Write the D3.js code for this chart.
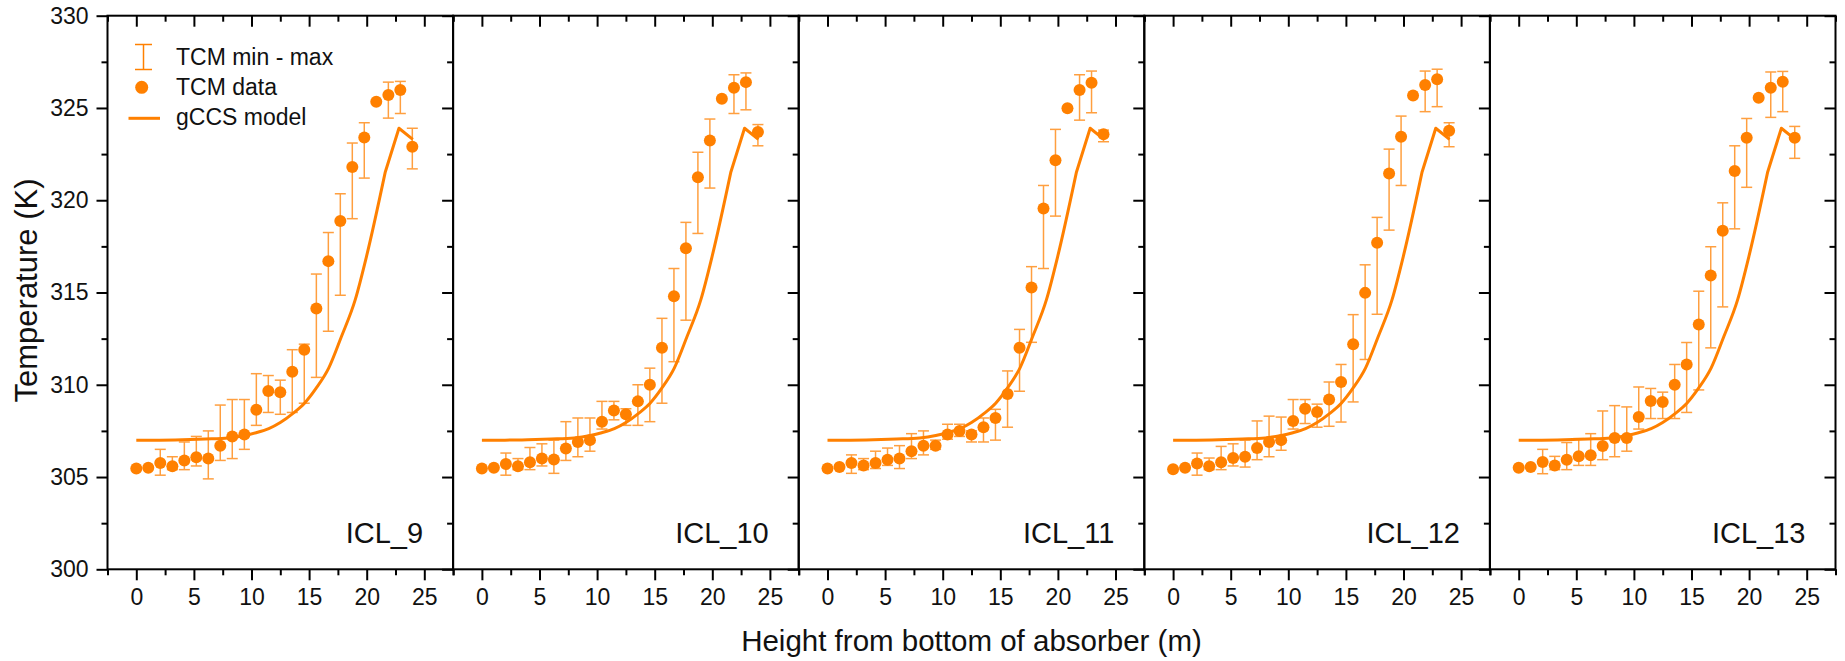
<!DOCTYPE html>
<html>
<head>
<meta charset="utf-8">
<script src="https://cdn.jsdelivr.net/npm/d3@7"></script>
<style>
  body { margin: 0; background: #fff; }
  svg { font-family: "Liberation Sans", Arial, sans-serif; }
</style>
</head>
<body>
<svg id="chart" width="1845" height="661"></svg>
<script>
// heights of the TCM probes (m)
const heights = [0, 1.04, 2.08, 3.13, 4.17, 5.21, 6.25, 7.29, 8.33, 9.38, 10.42, 11.46,
  12.5, 13.54, 14.58, 15.63, 16.67, 17.71, 18.75, 19.79, 20.83, 21.88, 22.92, 23.96]

const runs = ['ICL_9', 'ICL_10', 'ICL_11', 'ICL_12', 'ICL_13']

// TCM data, min and max (K), null where no bar is drawn
const tcm9 = [305.46, 305.5, 305.76, 305.58, 305.9, 306.07, 306.0, 306.7, 307.2, 307.3, 308.65, 309.66,
  309.6, 310.7, 311.9, 314.13, 316.7, 318.87, 321.8, 323.4, 325.34, 325.7, 325.97, 322.9]
const max9 = [null, null, 306.5, 306.1, 306.9, 307.2, 307.5, 308.9, 309.2, 309.2, 310.6, 310.5,
  310.25, 311.9, 312.2, 316.0, 318.25, 320.35, 323.1, 324.2, null, 326.4, 326.44, 323.9]
const min9 = [null, null, 305.1, 305.4, 305.4, 305.6, 304.9, 305.9, 306.0, 306.5, 307.8, 308.5,
  308.4, 308.5, 309.0, 310.4, 312.9, 314.85, 319.0, 321.2, null, 324.45, 324.7, 321.7]

const tcm10 = [305.46, 305.5, 305.7, 305.58, 305.8, 306.0, 305.95, 306.55, 306.9, 307.0, 308.0, 308.6,
  308.4, 309.1, 310.0, 312.0, 314.8, 317.4, 321.24, 323.24, 325.5, 326.1, 326.4, 323.7]
const max10 = [null, null, 306.3, 306.0, 306.6, 306.8, 307.0, 308.0, 308.2, 308.2, 309.1, 309.1,
  308.7, 310.0, 310.9, 313.6, 316.3, 318.8, 322.6, 324.4, null, 326.8, 326.9, 324.1]
const min10 = [null, null, 305.1, 305.4, 305.4, 305.6, 305.2, 305.9, 306.1, 306.4, 307.6, 308.1,
  307.8, 307.8, 308.0, 309.0, 311.25, 313.5, 318.2, 320.66, null, 324.7, 324.9, 322.95]

const tcm11 = [305.46, 305.55, 305.76, 305.63, 305.76, 305.94, 306.0, 306.4, 306.7, 306.7, 307.3, 307.5,
  307.3, 307.7, 308.2, 309.5, 312.0, 315.27, 319.55, 322.17, 324.98, 325.97, 326.37, 323.57]
const max11 = [null, null, 306.2, 306.0, 306.4, 306.57, 306.7, 307.35, 307.5, 307.0, 307.86, 307.86,
  307.5, 308.2, 308.67, 310.75, 313.0, 316.4, 320.8, 323.84, null, 326.8, 327.0, 323.8]
const min11 = [null, null, 305.2, 305.4, 305.46, 305.63, 305.46, 306.0, 306.2, 306.5, 307.05, 307.2,
  306.9, 306.9, 307.0, 307.7, 309.65, 312.3, 316.3, 319.14, null, 324.34, 324.74, 323.17]

const tcm12 = [305.42, 305.5, 305.73, 305.58, 305.8, 306.03, 306.1, 306.57, 306.9, 307.0, 308.04, 308.7,
  308.53, 309.2, 310.15, 312.2, 314.98, 317.7, 321.45, 323.44, 325.68, 326.24, 326.55, 323.77]
const max12 = [null, null, 306.3, 306.03, 306.66, 306.8, 307.0, 308.04, 308.3, 308.25, 309.2, 309.2,
  308.95, 310.15, 311.1, 313.8, 316.5, 319.07, 322.77, 324.56, null, 327.0, 327.1, 324.2]
const min12 = [null, null, 305.1, 305.4, 305.4, 305.6, 305.54, 305.94, 306.1, 306.45, 307.6, 307.9,
  307.7, 307.75, 307.98, 309.07, 311.37, 313.82, 318.38, 320.8, null, 324.8, 325.07, 322.9]

const tcm13 = [305.5, 305.55, 305.82, 305.63, 305.94, 306.12, 306.18, 306.68, 307.12, 307.12, 308.25, 309.12,
  309.07, 310.0, 311.1, 313.26, 315.92, 318.34, 321.58, 323.38, 325.55, 326.1, 326.42, 323.38]
const max13 = [null, null, 306.5, 306.12, 306.87, 307.08, 307.35, 308.58, 308.87, 308.8, 309.88, 309.8,
  309.6, 311.1, 312.29, 315.07, 317.48, 319.86, 322.95, 324.43, null, 326.95, 326.98, 324.0]
const min13 = [null, null, 305.18, 305.4, 305.4, 305.63, 305.63, 305.94, 306.1, 306.4, 307.6, 308.17,
  308.17, 308.17, 308.5, 309.72, 312.0, 314.22, 318.45, 320.7, null, 324.49, 324.8, 322.27]

// gCCS model profile: smooth part up to 21.6 m, then straight to the peak and down
const modelHeights = [0, 2, 4, 6, 8, 9.4, 10.4, 11.5, 12.5, 13.6, 14.6, 15.6, 16.7, 17.8, 19.0, 20.0, 21.6]
const modelTemp = [307.0, 307.0, 307.02, 307.06, 307.12, 307.25, 307.4, 307.62, 307.95, 308.45, 309.0, 309.8,
  310.9, 312.6, 314.6, 317.0, 321.5]
const modelTopHeights = [21.6, 22.8, 24.0]
const modelTopTemp = [321.5, 323.9, 323.3]

const xTicks = [0, 5, 10, 15, 20, 25]
const xMinor = [-2.5, 2.5, 7.5, 12.5, 17.5, 22.5, 27.5]
const yTicks = [300, 305, 310, 315, 320, 325, 330]
const yMinor = [302.5, 307.5, 312.5, 317.5, 322.5, 327.5]

const series = [
  { name: runs[0], t: tcm9, hi: max9, lo: min9 },
  { name: runs[1], t: tcm10, hi: max10, lo: min10 },
  { name: runs[2], t: tcm11, hi: max11, lo: min11 },
  { name: runs[3], t: tcm12, hi: max12, lo: min12 },
  { name: runs[4], t: tcm13, hi: max13, lo: min13 },
]

const orange = '#ff8000'
const svg = d3.select('#chart')
const marginLeft = 107.5, marginTop = 15.7, panelW = 345.6, panelH = 553.6

const x = d3.scaleLinear().domain([-2.5, 27.5]).range([0, panelW])
const y = d3.scaleLinear().domain([300, 330]).range([panelH, 0])

const smooth = d3.line()
  .x(d => x(d[0]))
  .y(d => y(d[1]))
  .curve(d3.curveMonotoneX)
const straight = d3.line()
  .x(d => x(d[0]))
  .y(d => y(d[1]))

series.forEach((s, k) => {
  const g = svg.append('g').attr('transform', 'translate(' + (marginLeft + k * panelW) + ',' + marginTop + ')')

  // model line
  const low = smooth(modelHeights.map((h, i) => [h, modelTemp[i]]))
  const high = straight(modelTopHeights.map((h, i) => [h, modelTopTemp[i]])).replace(/^M/, 'L')
  g.append('path')
    .attr('d', low + high)
    .attr('fill', 'none')
    .attr('stroke', orange)
    .attr('stroke-width', 3)
    .attr('stroke-linejoin', 'round')

  // min - max bars
  const bars = heights.map((h, i) => ({ h, lo: s.lo[i], hi: s.hi[i] })).filter(d => d.lo != null)
  const eb = g.append('g').attr('stroke', orange).attr('stroke-width', 1.5).attr('opacity', 0.75)
  eb.selectAll('.v').data(bars).enter().append('line')
    .attr('x1', d => x(d.h)).attr('x2', d => x(d.h))
    .attr('y1', d => y(d.lo)).attr('y2', d => y(d.hi))
  eb.selectAll('.ct').data(bars).enter().append('line')
    .attr('x1', d => x(d.h) - 5.5).attr('x2', d => x(d.h) + 5.5)
    .attr('y1', d => y(d.hi)).attr('y2', d => y(d.hi))
  eb.selectAll('.cb').data(bars).enter().append('line')
    .attr('x1', d => x(d.h) - 5.5).attr('x2', d => x(d.h) + 5.5)
    .attr('y1', d => y(d.lo)).attr('y2', d => y(d.lo))

  // TCM points
  g.selectAll('circle').data(s.t).enter().append('circle')
    .attr('cx', (d, i) => x(heights[i]))
    .attr('cy', d => y(d))
    .attr('r', 6)
    .attr('fill', orange)

  // axes: bottom out, top and right in
  const axes = g.append('g')
  const bottom = axes.append('g').attr('transform', 'translate(0,' + panelH + ')')
  bottom.call(d3.axisBottom(x).tickValues(xTicks).tickSize(11).tickPadding(8))
  bottom.append('g').call(d3.axisBottom(x).tickValues(xMinor).tickSize(6).tickFormat(''))
  axes.append('g').call(d3.axisBottom(x).tickValues(xTicks).tickSize(11).tickFormat(''))
  axes.append('g').call(d3.axisBottom(x).tickValues(xMinor).tickSize(6).tickFormat(''))
  const rightAxis = axes.append('g').attr('transform', 'translate(' + panelW + ',0)')
  rightAxis.call(d3.axisLeft(y).tickValues(yTicks).tickSize(11).tickFormat(''))
  rightAxis.append('g').call(d3.axisLeft(y).tickValues(yMinor).tickSize(6).tickFormat(''))
  if (k === 0) {
    const la = axes.append('g')
    la.call(d3.axisLeft(y).tickValues(yTicks).tickSize(11).tickPadding(8))
    la.append('g').call(d3.axisLeft(y).tickValues(yMinor).tickSize(6).tickFormat(''))
  }
  axes.selectAll('.domain').remove()
  axes.selectAll('.tick line').attr('stroke', '#000').attr('stroke-width', 2)
  axes.selectAll('.tick text').attr('fill', '#111').style('font-size', '23px')
    .style('font-family', '"Liberation Sans", Arial, sans-serif')

  g.append('rect')
    .attr('width', panelW).attr('height', panelH)
    .attr('fill', 'none').attr('stroke', '#000').attr('stroke-width', 2)

  // run label
  g.append('text')
    .attr('x', panelW - 30).attr('y', 527.5)
    .attr('text-anchor', 'end')
    .style('font-size', '29px')
    .attr('fill', '#111')
    .text(s.name)
})

// axis titles
svg.append('text')
  .attr('x', marginLeft + 2.5 * panelW).attr('y', 651)
  .attr('text-anchor', 'middle')
  .style('font-size', '29.5px')
  .attr('fill', '#111')
  .text('Height from bottom of absorber (m)')

svg.append('text')
  .attr('transform', 'translate(37,' + (marginTop + panelH / 2 - 2) + ') rotate(-90)')
  .attr('text-anchor', 'middle')
  .style('font-size', '31px')
  .attr('fill', '#111')
  .text('Temperature (K)')

// legend
const lg = svg.append('g')
lg.append('g').attr('stroke', orange).attr('stroke-width', 1.5)
  .call(e => {
    e.append('line').attr('x1', 143.5).attr('x2', 143.5).attr('y1', 44.5).attr('y2', 69.5)
    e.append('line').attr('x1', 135).attr('x2', 152).attr('y1', 44.5).attr('y2', 44.5)
    e.append('line').attr('x1', 135).attr('x2', 152).attr('y1', 69.5).attr('y2', 69.5)
  })
lg.append('circle').attr('cx', 141.7).attr('cy', 87.3).attr('r', 6.5).attr('fill', orange)
lg.append('line').attr('x1', 128.5).attr('x2', 160).attr('y1', 118.3).attr('y2', 118.3)
  .attr('stroke', orange).attr('stroke-width', 3)
const labels = ['TCM min - max', 'TCM data', 'gCCS model']
lg.selectAll('text').data(labels).enter().append('text')
  .attr('x', 176).attr('y', (d, i) => 64.5 + i * 30.2)
  .style('font-size', '23px')
  .attr('fill', '#111')
  .text(d => d)
</script>
</body>
</html>
